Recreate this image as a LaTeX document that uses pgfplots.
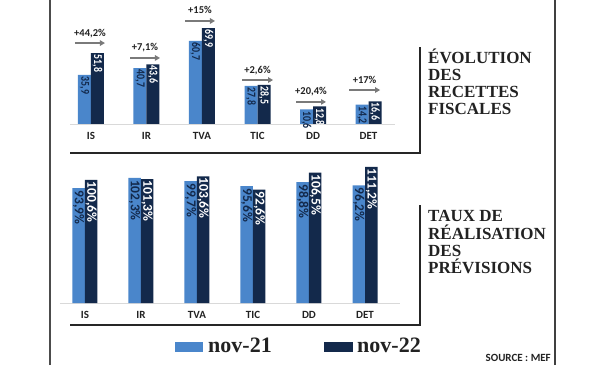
\documentclass[border=0pt]{standalone}
\usepackage{fontspec}
\setmainfont{Carlito}
\newfontfamily\serifb{Liberation Serif}
\usepackage{graphicx}
\usepackage{pgfplots}
\pgfplotsset{compat=1.18}
\usepackage{pgfplotstable}
\usetikzlibrary{arrows.meta}
\definecolor{lightb}{HTML}{4A86CB}
\definecolor{darkb}{HTML}{13294B}
\definecolor{arr}{HTML}{7A7A7A}
\definecolor{txt}{HTML}{222222}

\pgfplotstableread{
x y21 y22
0 35.9 51.8
1 40.7 43.6
2 60.7 69.9
3 27.8 28.5
4 10.6 12.8
5 14.2 16.6
}\topdata

\pgfplotstableread{
x y u xc lbl
-0.288 59.1 0.54 -0.018 +44,2\%
0.703 48.2 0.54 0.973 +7,1\%
1.694 75.2 0.54 1.964 +15\%
2.721 32.1 0.56 3.001 +2,6\%
3.694 16.1 0.54 3.964 +20,4\%
4.649 24.8 0.56 4.929 +17\%
}\arrowdata

\pgfplotstableread{
x y21 y22
0 93.9 100.6
1 102.3 101.3
2 99.7 103.6
3 95.6 92.6
4 98.8 106.5
5 96.2 111.2
}\botdata

\pgfplotsset{
  chartbase/.style={
    scale only axis, anchor=south west, clip=false,
    hide y axis, axis x line*=bottom,
    x axis line style={draw=black!15, line width=0.8pt, -},
    xtick={0,...,5}, xticklabels={IS,IR,TVA,TIC,DD,DET},
    major tick length=0pt,
    xticklabel style={font=\bfseries\fontsize{11}{13}\selectfont, text=txt, yshift=-5pt},
    /pgf/number format/assume math mode=true,
    ymin=0,
  },
}

\begin{document}
\begin{tikzpicture}
\useasboundingbox (0pt,0pt) rectangle (606pt,365pt);

% frame lines
\draw[line width=1.3pt, black!70] (50pt,0pt) -- (50pt,365pt);
\draw[line width=1.5pt, black!75] (555pt,0pt) -- (555pt,365pt);
\draw[line width=2pt, black!85] (70pt,212pt) -- (420pt,212pt) -- (420pt,318pt);
\draw[line width=2pt, black!85] (70pt,40pt) -- (420pt,40pt) -- (420pt,160pt);

% top chart
\begin{axis}[chartbase,
  at={(70pt,241pt)}, width=325pt, height=109.6pt,
  xmin=-0.378, xmax=5.477, ymax=80]
\addplot[ybar, bar width=13pt, bar shift=-6.5pt, fill=lightb, draw=none,
  nodes near coords={\scalebox{0.82}[1]{\pgfmathprintnumber[fixed,fixed zerofill,precision=1,use comma]{\pgfplotspointmeta}}},
  every node near coord/.append style={xshift=-6.5pt, rotate=-90, anchor=west, inner sep=1.5pt,
    font=\bfseries\fontsize{12}{12}\selectfont, text=darkb}]
  table[x=x, y=y21] {\topdata};
\addplot[ybar, bar width=13pt, bar shift=6.5pt, fill=darkb, draw=none,
  nodes near coords={\scalebox{0.82}[1]{\pgfmathprintnumber[fixed,fixed zerofill,precision=1,use comma]{\pgfplotspointmeta}}},
  every node near coord/.append style={xshift=6.5pt, rotate=-90, anchor=west, inner sep=1.5pt,
    font=\bfseries\fontsize{12}{12}\selectfont, text=white}]
  table[x=x, y=y22] {\topdata};
\addplot[arr, line width=1.3pt, -{Triangle[length=5pt,width=5.5pt]},
  quiver={u=\thisrow{u}, v=0}] table[x=x, y=y] {\arrowdata};
\addplot[draw=none, mark=none, nodes near coords, point meta=explicit symbolic,
  every node near coord/.style={anchor=base, yshift=7pt, inner sep=0pt,
    font=\bfseries\fontsize{10.5}{12}\selectfont, text=txt}]
  table[x=xc, y=y, meta=lbl] {\arrowdata};
\end{axis}

% bottom chart
\begin{axis}[chartbase,
  at={(60pt,62pt)}, width=340pt, height=146.8pt,
  xmin=-0.446, xmax=5.625, ymax=120]
\addplot[ybar, bar width=12.5pt, bar shift=-6.25pt, fill=lightb, draw=none,
  nodes near coords={\pgfmathprintnumber[fixed,fixed zerofill,precision=1,use comma]{\pgfplotspointmeta}\%},
  every node near coord/.append style={xshift=-6.25pt, rotate=-90, anchor=west, inner sep=2pt,
    font=\bfseries\fontsize{13.5}{14}\selectfont, text=darkb}]
  table[x=x, y=y21] {\botdata};
\addplot[ybar, bar width=12.5pt, bar shift=6.25pt, fill=darkb, draw=none,
  nodes near coords={\pgfmathprintnumber[fixed,fixed zerofill,precision=1,use comma]{\pgfplotspointmeta}\%},
  every node near coord/.append style={xshift=6.25pt, rotate=-90, anchor=west, inner sep=1.5pt,
    font=\bfseries\fontsize{13.5}{14}\selectfont, text=white}]
  table[x=x, y=y22] {\botdata};
\end{axis}

% titles
\begin{scope}[every node/.style={anchor=base west, inner sep=0pt, text=txt,
    font=\serifb\bfseries\fontsize{17}{17}\selectfont}]
\node at (428pt,301pt) {ÉVOLUTION};
\node at (428pt,284pt) {DES};
\node at (428pt,267pt) {RECETTES};
\node at (428pt,250pt) {FISCALES};
\node at (428pt,143pt) {TAUX DE};
\node at (428pt,126pt) {RÉALISATION};
\node at (428pt,109pt) {DES};
\node at (428pt,92pt) {PRÉVISIONS};
\end{scope}

% legend
\fill[lightb] (175pt,13pt) rectangle (203pt,23pt);
\node[anchor=base west, inner sep=0pt, text=txt, font=\serifb\bfseries\fontsize{22}{22}\selectfont] at (208pt,13pt) {nov-21};
\fill[darkb] (324pt,13pt) rectangle (353pt,23pt);
\node[anchor=base west, inner sep=0pt, text=txt, font=\serifb\bfseries\fontsize{22}{22}\selectfont] at (357pt,13pt) {nov-22};

\node[anchor=base east, inner sep=0pt, text=txt, font=\bfseries\fontsize{11}{12}\selectfont] at (551pt,4pt) {SOURCE : MEF};
\end{tikzpicture}
\end{document}
